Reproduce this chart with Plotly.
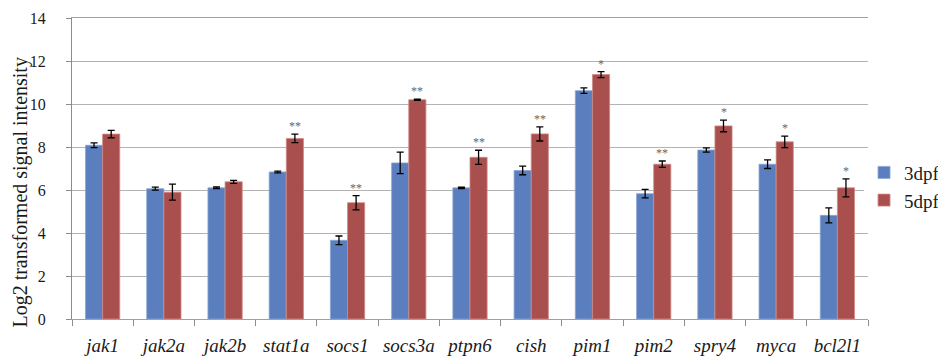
import plotly.graph_objects as go

genes = ["jak1", "jak2a", "jak2b", "stat1a", "socs1", "socs3a", "ptpn6",
         "cish", "pim1", "pim2", "spry4", "myca", "bcl2l1"]
dpf3 = [8.08, 6.06, 6.10, 6.84, 3.66, 7.26, 6.10, 6.91, 10.62, 5.83, 7.86, 7.20, 4.82]
err3 = [0.11, 0.07, 0.04, 0.04, 0.20, 0.50, 0.03, 0.20, 0.13, 0.20, 0.10, 0.20, 0.35]
dpf5 = [8.60, 5.90, 6.38, 8.40, 5.41, 10.20, 7.52, 8.61, 11.37, 7.20, 8.98, 8.24, 6.10]
err5 = [0.17, 0.37, 0.07, 0.20, 0.33, 0.03, 0.33, 0.33, 0.14, 0.15, 0.27, 0.27, 0.42]
stars = ["", "", "", "**", "**", "**", "**", "**", "*", "**", "*", "*", "*"]
y_ticks = [0, 2, 4, 6, 8, 10, 12, 14]

SERIF = "Liberation Serif"
BLUE = "#5b7fbe"
RED = "#a94f4e"
GRID = "#b3b3b3"

fig = go.Figure()
fig.add_trace(go.Bar(
    name="3dpf", x=genes, y=dpf3,
    marker=dict(color=BLUE, line=dict(color="#8da6d3", width=0.8)),
    error_y=dict(type="data", array=err3, color="black", thickness=1.3, width=3.5),
))
fig.add_trace(go.Bar(
    name="5dpf", x=genes, y=dpf5,
    marker=dict(color=RED, line=dict(color="#cf8a88", width=0.8)),
    error_y=dict(type="data", array=err5, color="black", thickness=1.3, width=3.5),
))

for g, v, e, s in zip(genes, dpf5, err5, stars):
    if s:
        fig.add_annotation(
            x=g, y=v + e, xref="x", yref="y", text=s, showarrow=False,
            xshift=8.6, yanchor="bottom", yshift=-1,
            font=dict(family=SERIF, size=12, color="#666666"),
        )

fig.add_annotation(
    text="Log2 transformed signal intensity", textangle=-90,
    xref="paper", yref="paper", x=0, y=0.42, xshift=-51,
    xanchor="center", yanchor="middle", showarrow=False, borderpad=0,
    font=dict(family=SERIF, size=20, color="#1a1a1a"),
)

fig.update_layout(
    width=938, height=355,
    margin=dict(l=64, r=78, t=10, b=44, autoexpand=False),
    plot_bgcolor="white", paper_bgcolor="white",
    barmode="group", bargap=0.44, bargroupgap=0,
    showlegend=True,
    legend=dict(
        x=0.995, y=0.44, xanchor="left", yanchor="middle",
        font=dict(family=SERIF, size=19, color="#1a1a1a"),
        tracegroupgap=0, itemwidth=30,
    ),
    xaxis=dict(
        tickson="boundaries", ticks="outside", ticklen=6, tickcolor="#8c8c8c",
        showline=True, linecolor="#a0a0a0", linewidth=1.2, mirror=True,
        showgrid=False,
        tickangle=0, automargin=False, ticklabelstandoff=9,
        tickfont=dict(family=SERIF, size=19, style="italic", color="#1a1a1a"),
    ),
    yaxis=dict(
        range=[0, 14], tickvals=y_ticks, ticks="outside", ticklen=5,
        tickcolor="#8c8c8c", showline=True, linecolor="#8c8c8c", linewidth=1,
        showgrid=True, gridcolor=GRID, gridwidth=1.2, zeroline=False,
        automargin=False, ticklabeloverflow="allow",
        tickfont=dict(family=SERIF, size=16, color="#1a1a1a"),
        ticklabelstandoff=17,
    ),
)

fig.write_html("out.html")
